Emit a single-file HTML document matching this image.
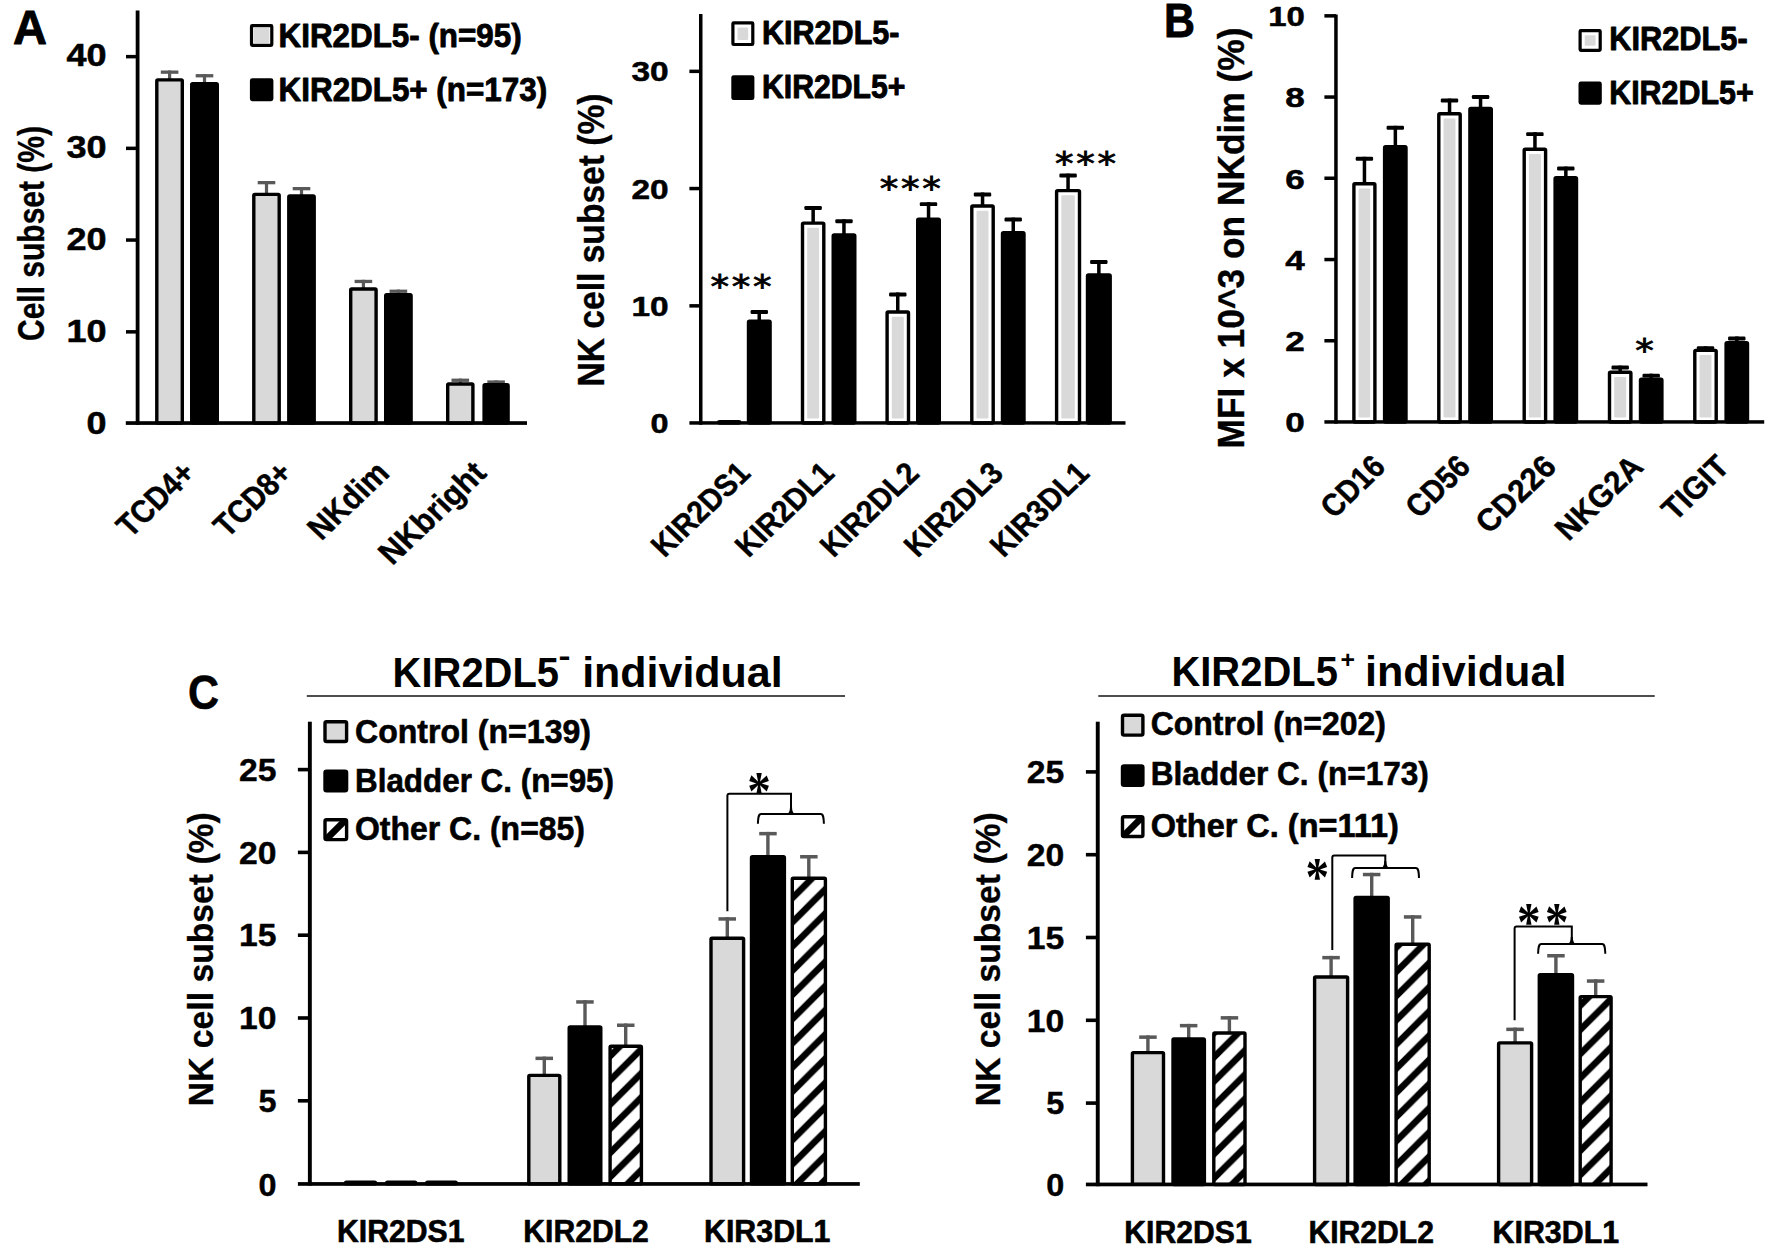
<!DOCTYPE html>
<html><head><meta charset="utf-8"><title>Figure</title>
<style>
html,body{margin:0;padding:0;background:#fff;}
svg{display:block;}
text{font-family:"Liberation Sans", sans-serif;fill:#000;}
</style></head>
<body>
<svg width="1772" height="1251" viewBox="0 0 1772 1251">
<defs>
<pattern id="hatch" patternUnits="userSpaceOnUse" width="24.2" height="24.2" x="20.6" y="0">
<rect width="24.2" height="24.2" fill="#fff"/>
<path d="M-6.05,6.05 L6.05,-6.05 M0,24.2 L24.2,0 M18.15,30.25 L30.25,18.15" stroke="#000" stroke-width="6.6" fill="none"/>
</pattern>
</defs>
<rect width="1772" height="1251" fill="#fff"/>
<rect x="160.8" y="70.5" width="17.6" height="3.3" rx="0" fill="#595959"/>
<rect x="168.0" y="70.5" width="3.2" height="9.2" fill="#595959"/>
<rect x="195.7" y="74.1" width="17.6" height="3.3" rx="0" fill="#595959"/>
<rect x="202.9" y="74.1" width="3.2" height="9.4" fill="#595959"/>
<rect x="257.7" y="181.0" width="17.6" height="3.3" rx="0" fill="#595959"/>
<rect x="264.9" y="181.0" width="3.2" height="13.2" fill="#595959"/>
<rect x="292.7" y="187.0" width="17.6" height="3.3" rx="0" fill="#595959"/>
<rect x="299.9" y="187.0" width="3.2" height="8.8" fill="#595959"/>
<rect x="354.6" y="279.8" width="17.6" height="3.3" rx="0" fill="#595959"/>
<rect x="361.8" y="279.8" width="3.2" height="9.0" fill="#595959"/>
<rect x="389.6" y="289.6" width="17.6" height="3.3" rx="0" fill="#595959"/>
<rect x="396.8" y="289.6" width="3.2" height="4.9" fill="#595959"/>
<rect x="451.5" y="378.6" width="17.6" height="3.3" rx="0" fill="#595959"/>
<rect x="458.7" y="378.6" width="3.2" height="5.2" fill="#595959"/>
<rect x="487.3" y="380.4" width="17.6" height="3.3" rx="0" fill="#595959"/>
<rect x="494.5" y="380.4" width="3.2" height="4.1" fill="#595959"/>
<rect x="156.8" y="79.9" width="25.5" height="343.2" rx="1" fill="#d9d9d9" stroke="#000" stroke-width="3.4"/>
<rect x="191.7" y="83.7" width="25.6" height="339.4" rx="1" fill="#000" stroke="#000" stroke-width="3.4"/>
<rect x="253.8" y="194.4" width="25.4" height="228.7" rx="1" fill="#d9d9d9" stroke="#000" stroke-width="3.4"/>
<rect x="288.8" y="196.0" width="25.4" height="227.1" rx="1" fill="#000" stroke="#000" stroke-width="3.4"/>
<rect x="350.7" y="289.0" width="25.4" height="134.1" rx="1" fill="#d9d9d9" stroke="#000" stroke-width="3.4"/>
<rect x="385.7" y="294.7" width="25.4" height="128.4" rx="1" fill="#000" stroke="#000" stroke-width="3.4"/>
<rect x="447.7" y="384.0" width="25.2" height="39.1" rx="1" fill="#d9d9d9" stroke="#000" stroke-width="3.4"/>
<rect x="484.1" y="384.7" width="24.0" height="38.4" rx="1" fill="#000" stroke="#000" stroke-width="3.4"/>
<rect x="135.7" y="10.5" width="3.8" height="414.3" fill="#000"/>
<rect x="125.8" y="421.2" width="401.2" height="3.7" fill="#000"/>
<text transform="translate(106.5,434.2)" font-size="30.5" font-weight="bold" text-anchor="end" textLength="20.0" lengthAdjust="spacingAndGlyphs" stroke="#000" stroke-width="0.5" stroke-linejoin="round">0</text>
<rect x="126.0" y="330.1" width="11.6" height="3.5" fill="#000"/>
<text transform="translate(106.5,342.1)" font-size="30.5" font-weight="bold" text-anchor="end" textLength="40.1" lengthAdjust="spacingAndGlyphs" stroke="#000" stroke-width="0.5" stroke-linejoin="round">10</text>
<rect x="126.0" y="238.3" width="11.6" height="3.5" fill="#000"/>
<text transform="translate(106.5,250.0)" font-size="30.5" font-weight="bold" text-anchor="end" textLength="40.1" lengthAdjust="spacingAndGlyphs" stroke="#000" stroke-width="0.5" stroke-linejoin="round">20</text>
<rect x="126.0" y="146.6" width="11.6" height="3.5" fill="#000"/>
<text transform="translate(106.5,157.9)" font-size="30.5" font-weight="bold" text-anchor="end" textLength="40.1" lengthAdjust="spacingAndGlyphs" stroke="#000" stroke-width="0.5" stroke-linejoin="round">30</text>
<rect x="126.0" y="54.9" width="11.6" height="3.5" fill="#000"/>
<text transform="translate(106.5,65.8)" font-size="30.5" font-weight="bold" text-anchor="end" textLength="40.1" lengthAdjust="spacingAndGlyphs" stroke="#000" stroke-width="0.5" stroke-linejoin="round">40</text>
<text transform="translate(44.4,233.5) scale(1.220,1) rotate(-90)" font-size="31.0" font-weight="bold" text-anchor="middle" textLength="215.0" lengthAdjust="spacingAndGlyphs" stroke="#000" stroke-width="0.3" stroke-linejoin="round">Cell subset (%)</text>
<rect x="251.5" y="25.7" width="20.3" height="19.7" rx="0.8" fill="#fff" stroke="#000" stroke-width="3.2"/>
<rect x="253.9" y="28.1" width="15.5" height="14.9" rx="1.2" fill="#d9d9d9"/>
<text transform="translate(278.6,47.0)" font-size="33.3" font-weight="bold" text-anchor="start" textLength="243.0" lengthAdjust="spacingAndGlyphs" stroke="#000" stroke-width="0.9" stroke-linejoin="round">KIR2DL5- (n=95)</text>
<rect x="251.5" y="79.9" width="20.3" height="19.7" rx="0.8" fill="#000" stroke="#000" stroke-width="3.2"/>
<text transform="translate(278.6,101.2)" font-size="33.3" font-weight="bold" text-anchor="start" textLength="268.5" lengthAdjust="spacingAndGlyphs" stroke="#000" stroke-width="0.9" stroke-linejoin="round">KIR2DL5+ (n=173)</text>
<text transform="translate(197.0,475.0) scale(1.050,1) rotate(-45)" font-size="32.0" font-weight="bold" text-anchor="end" textLength="90.0" lengthAdjust="spacingAndGlyphs" stroke="#000" stroke-width="0.45" stroke-linejoin="round">TCD4+</text>
<text transform="translate(294.0,475.0) scale(1.050,1) rotate(-45)" font-size="32.0" font-weight="bold" text-anchor="end" textLength="90.0" lengthAdjust="spacingAndGlyphs" stroke="#000" stroke-width="0.45" stroke-linejoin="round">TCD8+</text>
<text transform="translate(391.0,475.0) scale(1.050,1) rotate(-45)" font-size="32.0" font-weight="bold" text-anchor="end" textLength="94.0" lengthAdjust="spacingAndGlyphs" stroke="#000" stroke-width="0.45" stroke-linejoin="round">NKdim</text>
<text transform="translate(488.0,475.0) scale(1.050,1) rotate(-45)" font-size="32.0" font-weight="bold" text-anchor="end" textLength="129.0" lengthAdjust="spacingAndGlyphs" stroke="#000" stroke-width="0.45" stroke-linejoin="round">NKbright</text>
<text transform="translate(13.0,43.7)" font-size="48.5" font-weight="bold" text-anchor="start" textLength="34.0" lengthAdjust="spacingAndGlyphs" stroke="#000" stroke-width="0.9" stroke-linejoin="round">A</text>
<rect x="750.6" y="310.0" width="17.4" height="3.9" rx="1.2" fill="#000"/>
<rect x="757.5" y="310.0" width="3.5" height="11.1" fill="#000"/>
<rect x="804.4" y="206.1" width="17.4" height="3.9" rx="1.2" fill="#000"/>
<rect x="811.4" y="206.1" width="3.5" height="16.8" fill="#000"/>
<rect x="835.3" y="219.3" width="17.4" height="3.9" rx="1.2" fill="#000"/>
<rect x="842.2" y="219.3" width="3.5" height="15.4" fill="#000"/>
<rect x="889.1" y="292.5" width="17.4" height="3.9" rx="1.2" fill="#000"/>
<rect x="896.0" y="292.5" width="3.5" height="19.3" fill="#000"/>
<rect x="919.8" y="202.2" width="17.4" height="3.9" rx="1.2" fill="#000"/>
<rect x="926.8" y="202.2" width="3.5" height="16.8" fill="#000"/>
<rect x="973.8" y="192.5" width="17.4" height="3.9" rx="1.2" fill="#000"/>
<rect x="980.8" y="192.5" width="3.5" height="13.3" fill="#000"/>
<rect x="1004.5" y="217.6" width="17.4" height="3.9" rx="1.2" fill="#000"/>
<rect x="1011.5" y="217.6" width="3.5" height="15.0" fill="#000"/>
<rect x="1059.4" y="173.6" width="17.4" height="3.9" rx="1.2" fill="#000"/>
<rect x="1066.3" y="173.6" width="3.5" height="16.8" fill="#000"/>
<rect x="1090.1" y="260.0" width="17.4" height="3.9" rx="1.2" fill="#000"/>
<rect x="1097.1" y="260.0" width="3.5" height="14.7" fill="#000"/>
<rect x="718.7" y="421.7" width="21.1" height="1.3" rx="1" fill="#d9d9d9" stroke="#000" stroke-width="3.4"/>
<rect x="748.5" y="321.3" width="21.6" height="101.7" rx="1" fill="#000" stroke="#000" stroke-width="3.4"/>
<rect x="802.5" y="223.1" width="21.3" height="199.9" rx="1" fill="#fff" stroke="#000" stroke-width="3.4"/>
<rect x="807.2" y="227.8" width="11.9" height="190.7" rx="1.2" fill="#d9d9d9"/>
<rect x="833.2" y="234.9" width="21.6" height="188.1" rx="1" fill="#000" stroke="#000" stroke-width="3.4"/>
<rect x="887.1" y="312.0" width="21.4" height="111.0" rx="1" fill="#fff" stroke="#000" stroke-width="3.4"/>
<rect x="891.8" y="316.7" width="12.0" height="101.8" rx="1.2" fill="#d9d9d9"/>
<rect x="917.7" y="219.2" width="21.6" height="203.8" rx="1" fill="#000" stroke="#000" stroke-width="3.4"/>
<rect x="971.8" y="206.0" width="21.4" height="217.0" rx="1" fill="#fff" stroke="#000" stroke-width="3.4"/>
<rect x="976.5" y="210.7" width="12.0" height="207.8" rx="1.2" fill="#d9d9d9"/>
<rect x="1002.5" y="232.8" width="21.5" height="190.2" rx="1" fill="#000" stroke="#000" stroke-width="3.4"/>
<rect x="1056.6" y="190.6" width="22.9" height="232.4" rx="1" fill="#fff" stroke="#000" stroke-width="3.4"/>
<rect x="1061.3" y="195.3" width="13.5" height="223.2" rx="1.2" fill="#d9d9d9"/>
<rect x="1087.5" y="274.9" width="22.7" height="148.1" rx="1" fill="#000" stroke="#000" stroke-width="3.4"/>
<rect x="699.0" y="14.0" width="3.5" height="410.7" fill="#000"/>
<rect x="689.4" y="421.2" width="436.1" height="3.5" fill="#000"/>
<text transform="translate(668.6,433.0)" font-size="27.5" font-weight="bold" text-anchor="end" textLength="18.0" lengthAdjust="spacingAndGlyphs" stroke="#000" stroke-width="0.5" stroke-linejoin="round">0</text>
<rect x="689.4" y="304.1" width="11.4" height="3.5" fill="#000"/>
<text transform="translate(668.6,315.8)" font-size="27.5" font-weight="bold" text-anchor="end" textLength="37.2" lengthAdjust="spacingAndGlyphs" stroke="#000" stroke-width="0.5" stroke-linejoin="round">10</text>
<rect x="689.4" y="186.8" width="11.4" height="3.5" fill="#000"/>
<text transform="translate(668.6,198.6)" font-size="27.5" font-weight="bold" text-anchor="end" textLength="37.2" lengthAdjust="spacingAndGlyphs" stroke="#000" stroke-width="0.5" stroke-linejoin="round">20</text>
<rect x="689.4" y="69.6" width="11.4" height="3.5" fill="#000"/>
<text transform="translate(668.6,81.4)" font-size="27.5" font-weight="bold" text-anchor="end" textLength="37.2" lengthAdjust="spacingAndGlyphs" stroke="#000" stroke-width="0.5" stroke-linejoin="round">30</text>
<text transform="translate(604.2,240.0) scale(1.170,1) rotate(-90)" font-size="31.0" font-weight="bold" text-anchor="middle" textLength="293.0" lengthAdjust="spacingAndGlyphs" stroke="#000" stroke-width="0.3" stroke-linejoin="round">NK cell subset (%)</text>
<rect x="732.9" y="22.9" width="19.9" height="21.6" rx="0.8" fill="#fff" stroke="#000" stroke-width="3.2"/>
<rect x="737.5" y="27.5" width="10.7" height="12.4" rx="1.2" fill="#d9d9d9"/>
<text transform="translate(762.0,43.9)" font-size="32.8" font-weight="bold" text-anchor="start" textLength="137.5" lengthAdjust="spacingAndGlyphs" stroke="#000" stroke-width="0.9" stroke-linejoin="round">KIR2DL5-</text>
<rect x="732.9" y="76.8" width="19.9" height="21.7" rx="0.8" fill="#000" stroke="#000" stroke-width="3.2"/>
<text transform="translate(762.0,97.8)" font-size="32.8" font-weight="bold" text-anchor="start" textLength="143.5" lengthAdjust="spacingAndGlyphs" stroke="#000" stroke-width="0.9" stroke-linejoin="round">KIR2DL5+</text>
<text transform="translate(752.0,475.0) scale(1.050,1) rotate(-45)" font-size="31.0" font-weight="bold" text-anchor="end" textLength="118.0" lengthAdjust="spacingAndGlyphs" stroke="#000" stroke-width="0.45" stroke-linejoin="round">KIR2DS1</text>
<text transform="translate(836.0,475.0) scale(1.050,1) rotate(-45)" font-size="31.0" font-weight="bold" text-anchor="end" textLength="118.0" lengthAdjust="spacingAndGlyphs" stroke="#000" stroke-width="0.45" stroke-linejoin="round">KIR2DL1</text>
<text transform="translate(921.0,475.0) scale(1.050,1) rotate(-45)" font-size="31.0" font-weight="bold" text-anchor="end" textLength="118.0" lengthAdjust="spacingAndGlyphs" stroke="#000" stroke-width="0.45" stroke-linejoin="round">KIR2DL2</text>
<text transform="translate(1005.0,475.0) scale(1.050,1) rotate(-45)" font-size="31.0" font-weight="bold" text-anchor="end" textLength="118.0" lengthAdjust="spacingAndGlyphs" stroke="#000" stroke-width="0.45" stroke-linejoin="round">KIR2DL3</text>
<text transform="translate(1091.0,475.0) scale(1.050,1) rotate(-45)" font-size="31.0" font-weight="bold" text-anchor="end" textLength="118.0" lengthAdjust="spacingAndGlyphs" stroke="#000" stroke-width="0.45" stroke-linejoin="round">KIR3DL1</text>
<text transform="translate(710.5,297.2) scale(1.140,1)" font-size="32.5" font-weight="normal" text-anchor="start" textLength="53.6" lengthAdjust="spacing" style="font-family:'DejaVu Sans',sans-serif" stroke="#000" stroke-width="0.8">***</text>
<text transform="translate(879.7,199.2) scale(1.140,1)" font-size="32.5" font-weight="normal" text-anchor="start" textLength="53.6" lengthAdjust="spacing" style="font-family:'DejaVu Sans',sans-serif" stroke="#000" stroke-width="0.8">***</text>
<text transform="translate(1055.0,174.2) scale(1.140,1)" font-size="32.5" font-weight="normal" text-anchor="start" textLength="53.6" lengthAdjust="spacing" style="font-family:'DejaVu Sans',sans-serif" stroke="#000" stroke-width="0.8">***</text>
<rect x="1355.7" y="156.8" width="17.4" height="3.9" rx="1.2" fill="#000"/>
<rect x="1362.7" y="156.8" width="3.5" height="26.8" fill="#000"/>
<rect x="1386.6" y="125.8" width="17.4" height="3.9" rx="1.2" fill="#000"/>
<rect x="1393.6" y="125.8" width="3.5" height="20.8" fill="#000"/>
<rect x="1440.8" y="98.6" width="17.4" height="3.9" rx="1.2" fill="#000"/>
<rect x="1447.8" y="98.6" width="3.5" height="15.0" fill="#000"/>
<rect x="1471.9" y="95.0" width="17.4" height="3.9" rx="1.2" fill="#000"/>
<rect x="1478.8" y="95.0" width="3.5" height="13.2" fill="#000"/>
<rect x="1526.2" y="132.2" width="17.4" height="3.9" rx="1.2" fill="#000"/>
<rect x="1533.2" y="132.2" width="3.5" height="16.9" fill="#000"/>
<rect x="1557.1" y="166.6" width="17.4" height="3.9" rx="1.2" fill="#000"/>
<rect x="1564.1" y="166.6" width="3.5" height="11.0" fill="#000"/>
<rect x="1611.5" y="365.6" width="17.4" height="3.9" rx="1.2" fill="#000"/>
<rect x="1618.4" y="365.6" width="3.5" height="6.4" fill="#000"/>
<rect x="1642.5" y="373.7" width="17.4" height="3.9" rx="1.2" fill="#000"/>
<rect x="1649.4" y="373.7" width="3.5" height="5.3" fill="#000"/>
<rect x="1696.8" y="346.3" width="17.4" height="3.9" rx="1.2" fill="#000"/>
<rect x="1703.8" y="346.3" width="3.5" height="3.9" fill="#000"/>
<rect x="1728.1" y="336.5" width="17.4" height="3.9" rx="1.2" fill="#000"/>
<rect x="1735.1" y="336.5" width="3.5" height="6.0" fill="#000"/>
<rect x="1353.9" y="183.8" width="21.0" height="238.2" rx="1" fill="#fff" stroke="#000" stroke-width="3.4"/>
<rect x="1358.6" y="188.5" width="11.6" height="229.0" rx="1.2" fill="#d9d9d9"/>
<rect x="1384.6" y="146.8" width="21.4" height="275.2" rx="1" fill="#000" stroke="#000" stroke-width="3.4"/>
<rect x="1438.8" y="113.8" width="21.4" height="308.2" rx="1" fill="#fff" stroke="#000" stroke-width="3.4"/>
<rect x="1443.5" y="118.5" width="12.0" height="299.0" rx="1.2" fill="#d9d9d9"/>
<rect x="1469.9" y="108.4" width="21.4" height="313.6" rx="1" fill="#000" stroke="#000" stroke-width="3.4"/>
<rect x="1524.2" y="149.3" width="21.4" height="272.7" rx="1" fill="#fff" stroke="#000" stroke-width="3.4"/>
<rect x="1528.9" y="154.0" width="12.0" height="263.5" rx="1.2" fill="#d9d9d9"/>
<rect x="1555.1" y="177.8" width="21.4" height="244.2" rx="1" fill="#000" stroke="#000" stroke-width="3.4"/>
<rect x="1609.5" y="372.2" width="21.4" height="49.8" rx="1" fill="#fff" stroke="#000" stroke-width="3.4"/>
<rect x="1614.2" y="376.9" width="12.0" height="40.6" rx="1.2" fill="#d9d9d9"/>
<rect x="1640.5" y="379.2" width="21.4" height="42.8" rx="1" fill="#000" stroke="#000" stroke-width="3.4"/>
<rect x="1694.8" y="350.4" width="21.4" height="71.6" rx="1" fill="#fff" stroke="#000" stroke-width="3.4"/>
<rect x="1699.5" y="355.1" width="12.0" height="62.4" rx="1.2" fill="#d9d9d9"/>
<rect x="1726.1" y="342.7" width="21.4" height="79.3" rx="1" fill="#000" stroke="#000" stroke-width="3.4"/>
<rect x="1334.2" y="14.5" width="3.5" height="409.2" fill="#000"/>
<rect x="1324.4" y="420.2" width="439.8" height="3.5" fill="#000"/>
<text transform="translate(1304.8,432.3)" font-size="27.5" font-weight="bold" text-anchor="end" textLength="19.5" lengthAdjust="spacingAndGlyphs" stroke="#000" stroke-width="0.5" stroke-linejoin="round">0</text>
<rect x="1324.4" y="339.0" width="11.6" height="3.5" fill="#000"/>
<text transform="translate(1304.8,351.1)" font-size="27.5" font-weight="bold" text-anchor="end" textLength="19.5" lengthAdjust="spacingAndGlyphs" stroke="#000" stroke-width="0.5" stroke-linejoin="round">2</text>
<rect x="1324.4" y="257.8" width="11.6" height="3.5" fill="#000"/>
<text transform="translate(1304.8,269.8)" font-size="27.5" font-weight="bold" text-anchor="end" textLength="19.5" lengthAdjust="spacingAndGlyphs" stroke="#000" stroke-width="0.5" stroke-linejoin="round">4</text>
<rect x="1324.4" y="176.5" width="11.6" height="3.5" fill="#000"/>
<text transform="translate(1304.8,188.6)" font-size="27.5" font-weight="bold" text-anchor="end" textLength="19.5" lengthAdjust="spacingAndGlyphs" stroke="#000" stroke-width="0.5" stroke-linejoin="round">6</text>
<rect x="1324.4" y="95.3" width="11.6" height="3.5" fill="#000"/>
<text transform="translate(1304.8,107.3)" font-size="27.5" font-weight="bold" text-anchor="end" textLength="19.5" lengthAdjust="spacingAndGlyphs" stroke="#000" stroke-width="0.5" stroke-linejoin="round">8</text>
<rect x="1324.4" y="14.1" width="11.6" height="3.5" fill="#000"/>
<text transform="translate(1304.8,26.1)" font-size="27.5" font-weight="bold" text-anchor="end" textLength="36.6" lengthAdjust="spacingAndGlyphs" stroke="#000" stroke-width="0.5" stroke-linejoin="round">10</text>
<text transform="translate(1243.8,238.0) scale(1.200,1) rotate(-90)" font-size="31.0" font-weight="bold" text-anchor="middle" textLength="421.0" lengthAdjust="spacingAndGlyphs" stroke="#000" stroke-width="0.3" stroke-linejoin="round">MFI x 10^3 on NKdim (%)</text>
<rect x="1580.1" y="30.7" width="20.1" height="19.7" rx="0.8" fill="#fff" stroke="#000" stroke-width="3.2"/>
<rect x="1584.7" y="35.3" width="10.9" height="10.5" rx="1.2" fill="#d9d9d9"/>
<text transform="translate(1609.2,50.2)" font-size="33.3" font-weight="bold" text-anchor="start" textLength="138.5" lengthAdjust="spacingAndGlyphs" stroke="#000" stroke-width="0.9" stroke-linejoin="round">KIR2DL5-</text>
<rect x="1580.1" y="83.2" width="20.1" height="19.9" rx="0.8" fill="#000" stroke="#000" stroke-width="3.2"/>
<text transform="translate(1609.2,104.4)" font-size="33.3" font-weight="bold" text-anchor="start" textLength="144.5" lengthAdjust="spacingAndGlyphs" stroke="#000" stroke-width="0.9" stroke-linejoin="round">KIR2DL5+</text>
<text transform="translate(1387.0,468.5) scale(1.040,1) rotate(-45)" font-size="31.5" font-weight="bold" text-anchor="end" textLength="72.0" lengthAdjust="spacingAndGlyphs" stroke="#000" stroke-width="0.45" stroke-linejoin="round">CD16</text>
<text transform="translate(1472.0,468.5) scale(1.040,1) rotate(-45)" font-size="31.5" font-weight="bold" text-anchor="end" textLength="72.0" lengthAdjust="spacingAndGlyphs" stroke="#000" stroke-width="0.45" stroke-linejoin="round">CD56</text>
<text transform="translate(1558.0,468.5) scale(1.040,1) rotate(-45)" font-size="31.5" font-weight="bold" text-anchor="end" textLength="94.0" lengthAdjust="spacingAndGlyphs" stroke="#000" stroke-width="0.45" stroke-linejoin="round">CD226</text>
<text transform="translate(1645.0,468.5) scale(1.040,1) rotate(-45)" font-size="31.5" font-weight="bold" text-anchor="end" textLength="104.0" lengthAdjust="spacingAndGlyphs" stroke="#000" stroke-width="0.45" stroke-linejoin="round">NKG2A</text>
<text transform="translate(1731.0,468.5) scale(1.040,1) rotate(-45)" font-size="31.5" font-weight="bold" text-anchor="end" textLength="76.0" lengthAdjust="spacingAndGlyphs" stroke="#000" stroke-width="0.45" stroke-linejoin="round">TIGIT</text>
<text transform="translate(1635.2,361.0) scale(1.140,1)" font-size="32.5" font-weight="normal" text-anchor="start" style="font-family:'DejaVu Sans',sans-serif" stroke="#000" stroke-width="0.8">*</text>
<text transform="translate(1164.0,36.9)" font-size="49.0" font-weight="bold" text-anchor="start" textLength="31.0" lengthAdjust="spacingAndGlyphs" stroke="#000" stroke-width="0.9" stroke-linejoin="round">B</text>
<rect x="535.5" y="1056.6" width="17.5" height="3.5" rx="0" fill="#595959"/>
<rect x="542.6" y="1056.6" width="3.4" height="18.6" fill="#595959"/>
<rect x="576.2" y="1000.2" width="17.5" height="3.5" rx="0" fill="#595959"/>
<rect x="583.3" y="1000.2" width="3.4" height="26.5" fill="#595959"/>
<rect x="617.0" y="1023.5" width="17.5" height="3.5" rx="0" fill="#595959"/>
<rect x="624.0" y="1023.5" width="3.4" height="22.5" fill="#595959"/>
<rect x="718.5" y="917.2" width="17.5" height="3.5" rx="0" fill="#595959"/>
<rect x="725.6" y="917.2" width="3.4" height="20.9" fill="#595959"/>
<rect x="759.2" y="831.9" width="17.5" height="3.5" rx="0" fill="#595959"/>
<rect x="766.2" y="831.9" width="3.4" height="24.6" fill="#595959"/>
<rect x="800.1" y="855.0" width="17.5" height="3.5" rx="0" fill="#595959"/>
<rect x="807.1" y="855.0" width="3.4" height="23.0" fill="#595959"/>
<rect x="345.5" y="1182.1" width="30.1" height="1.8" rx="1" fill="#000" stroke="#000" stroke-width="3.4"/>
<rect x="386.6" y="1182.1" width="29.2" height="1.8" rx="1" fill="#000" stroke="#000" stroke-width="3.4"/>
<rect x="426.7" y="1182.1" width="29.6" height="1.8" rx="1" fill="#000" stroke="#000" stroke-width="3.4"/>
<rect x="528.8" y="1075.4" width="31.0" height="108.5" rx="1" fill="#d9d9d9" stroke="#000" stroke-width="3.4"/>
<rect x="569.2" y="1026.9" width="31.6" height="157.0" rx="1" fill="#000" stroke="#000" stroke-width="3.4"/>
<rect x="610.1" y="1046.2" width="31.3" height="137.7" rx="1" fill="url(#hatch)" stroke="#000" stroke-width="3.4"/>
<rect x="711.0" y="938.3" width="32.6" height="245.6" rx="1" fill="#d9d9d9" stroke="#000" stroke-width="3.4"/>
<rect x="751.5" y="856.7" width="32.9" height="327.2" rx="1" fill="#000" stroke="#000" stroke-width="3.4"/>
<rect x="792.3" y="878.2" width="33.1" height="305.7" rx="1" fill="url(#hatch)" stroke="#000" stroke-width="3.4"/>
<rect x="307.9" y="721.7" width="3.9" height="463.9" fill="#000"/>
<rect x="297.9" y="1182.1" width="561.9" height="3.7" fill="#000"/>
<text transform="translate(276.5,1195.7)" font-size="31.3" font-weight="bold" text-anchor="end" textLength="18.0" lengthAdjust="spacingAndGlyphs" stroke="#000" stroke-width="0.4" stroke-linejoin="round">0</text>
<rect x="297.9" y="1099.0" width="11.9" height="3.6" fill="#000"/>
<text transform="translate(276.5,1112.0)" font-size="31.3" font-weight="bold" text-anchor="end" textLength="18.0" lengthAdjust="spacingAndGlyphs" stroke="#000" stroke-width="0.4" stroke-linejoin="round">5</text>
<rect x="297.9" y="1016.2" width="11.9" height="3.6" fill="#000"/>
<text transform="translate(276.5,1029.2)" font-size="31.3" font-weight="bold" text-anchor="end" textLength="37.5" lengthAdjust="spacingAndGlyphs" stroke="#000" stroke-width="0.4" stroke-linejoin="round">10</text>
<rect x="297.9" y="933.4" width="11.9" height="3.6" fill="#000"/>
<text transform="translate(276.5,946.4)" font-size="31.3" font-weight="bold" text-anchor="end" textLength="37.5" lengthAdjust="spacingAndGlyphs" stroke="#000" stroke-width="0.4" stroke-linejoin="round">15</text>
<rect x="297.9" y="850.6" width="11.9" height="3.6" fill="#000"/>
<text transform="translate(276.5,863.6)" font-size="31.3" font-weight="bold" text-anchor="end" textLength="37.5" lengthAdjust="spacingAndGlyphs" stroke="#000" stroke-width="0.4" stroke-linejoin="round">20</text>
<rect x="297.9" y="767.8" width="11.9" height="3.6" fill="#000"/>
<text transform="translate(276.5,780.8)" font-size="31.3" font-weight="bold" text-anchor="end" textLength="37.5" lengthAdjust="spacingAndGlyphs" stroke="#000" stroke-width="0.4" stroke-linejoin="round">25</text>
<text transform="translate(212.9,959.2) scale(1.080,1) rotate(-90)" font-size="33.0" font-weight="bold" text-anchor="middle" textLength="294.0" lengthAdjust="spacingAndGlyphs" stroke="#000" stroke-width="0.3" stroke-linejoin="round">NK cell subset (%)</text>
<rect x="325.0" y="721.7" width="21.6" height="19.8" rx="1.6" fill="#d9d9d9" stroke="#000" stroke-width="3.4"/>
<text transform="translate(355.0,742.9)" font-size="32.5" font-weight="bold" text-anchor="start" textLength="236.0" lengthAdjust="spacingAndGlyphs" stroke="#000" stroke-width="0.6" stroke-linejoin="round">Control (n=139)</text>
<rect x="325.0" y="771.1" width="21.6" height="19.8" rx="1.6" fill="#000" stroke="#000" stroke-width="3.4"/>
<text transform="translate(355.0,791.6)" font-size="32.5" font-weight="bold" text-anchor="start" textLength="259.0" lengthAdjust="spacingAndGlyphs" stroke="#000" stroke-width="0.6" stroke-linejoin="round">Bladder C. (n=95)</text>
<clipPath id="lc1"><rect x="325.0" y="819.8" width="21.6" height="19.8"/></clipPath>
<rect x="325.0" y="819.8" width="21.6" height="19.8" fill="#fff"/>
<path d="M315.8,849.7 L355.8,809.7" stroke="#000" stroke-width="6.6" clip-path="url(#lc1)"/>
<rect x="325.0" y="819.8" width="21.6" height="19.8" rx="1.6" fill="none" stroke="#000" stroke-width="3.4"/>
<text transform="translate(355.0,840.3)" font-size="32.5" font-weight="bold" text-anchor="start" textLength="230.0" lengthAdjust="spacingAndGlyphs" stroke="#000" stroke-width="0.6" stroke-linejoin="round">Other C. (n=85)</text>
<text transform="translate(337.0,1242.3)" font-size="30.5" font-weight="bold" text-anchor="start" textLength="127.5" lengthAdjust="spacingAndGlyphs" stroke="#000" stroke-width="0.6" stroke-linejoin="round">KIR2DS1</text>
<text transform="translate(523.3,1242.3)" font-size="30.5" font-weight="bold" text-anchor="start" textLength="125.5" lengthAdjust="spacingAndGlyphs" stroke="#000" stroke-width="0.6" stroke-linejoin="round">KIR2DL2</text>
<text transform="translate(704.0,1242.3)" font-size="30.5" font-weight="bold" text-anchor="start" textLength="126.5" lengthAdjust="spacingAndGlyphs" stroke="#000" stroke-width="0.6" stroke-linejoin="round">KIR3DL1</text>
<text font-size="43" font-weight="bold"><tspan x="392.6" y="687.0" textLength="166.5" lengthAdjust="spacingAndGlyphs">KIR2DL5</tspan><tspan x="558.5" y="665.5" font-size="30" textLength="12.0" lengthAdjust="spacingAndGlyphs">-</tspan><tspan x="582.2" y="687.0" textLength="200.5" lengthAdjust="spacingAndGlyphs">individual</tspan></text>
<rect x="306.8" y="695.2" width="538.2" height="1.6" fill="#222"/>
<path d="M727.4,911.2 V795.7 Q727.4,793.7 729.4,793.7 H791.0 V814.1" fill="none" stroke="#000" stroke-width="2.0"/>
<path d="M757.9,823.7 C758.1,817.3 758.5,814.1 761.1,814.1 H820.7 C823.3,814.1 823.7,817.3 823.9,823.7" fill="none" stroke="#000" stroke-width="2.0"/>
<path d="M790.0,807.1 Q790.0,812.6 786.5,815.1 H795.5 Q792.0,812.6 792.0,807.1 Z" fill="#000"/>
<text transform="translate(747.2,809.2)" font-size="55.0" font-weight="bold" text-anchor="start" textLength="23.6" lengthAdjust="spacingAndGlyphs" style="font-family:'Liberation Serif',serif">*</text>
<text transform="translate(188.0,709.0)" font-size="49.0" font-weight="bold" text-anchor="start" textLength="31.0" lengthAdjust="spacingAndGlyphs" stroke="#000" stroke-width="0.6" stroke-linejoin="round">C</text>
<rect x="1139.2" y="1035.4" width="17.5" height="3.5" rx="0" fill="#595959"/>
<rect x="1146.2" y="1035.4" width="3.4" height="17.0" fill="#595959"/>
<rect x="1179.9" y="1023.9" width="17.5" height="3.5" rx="0" fill="#595959"/>
<rect x="1187.0" y="1023.9" width="3.4" height="14.9" fill="#595959"/>
<rect x="1220.7" y="1016.1" width="17.5" height="3.5" rx="0" fill="#595959"/>
<rect x="1227.7" y="1016.1" width="3.4" height="16.7" fill="#595959"/>
<rect x="1322.3" y="955.9" width="17.5" height="3.5" rx="0" fill="#595959"/>
<rect x="1329.4" y="955.9" width="3.4" height="20.9" fill="#595959"/>
<rect x="1362.9" y="872.8" width="17.5" height="3.5" rx="0" fill="#595959"/>
<rect x="1370.0" y="872.8" width="3.4" height="24.4" fill="#595959"/>
<rect x="1403.9" y="915.2" width="17.5" height="3.5" rx="0" fill="#595959"/>
<rect x="1411.0" y="915.2" width="3.4" height="28.9" fill="#595959"/>
<rect x="1506.3" y="1027.6" width="17.5" height="3.5" rx="0" fill="#595959"/>
<rect x="1513.4" y="1027.6" width="3.4" height="15.1" fill="#595959"/>
<rect x="1547.2" y="954.0" width="17.5" height="3.5" rx="0" fill="#595959"/>
<rect x="1554.2" y="954.0" width="3.4" height="20.6" fill="#595959"/>
<rect x="1586.9" y="979.3" width="17.5" height="3.5" rx="0" fill="#595959"/>
<rect x="1594.0" y="979.3" width="3.4" height="17.1" fill="#595959"/>
<rect x="1132.4" y="1052.6" width="31.1" height="131.8" rx="1" fill="#d9d9d9" stroke="#000" stroke-width="3.4"/>
<rect x="1173.0" y="1039.0" width="31.4" height="145.5" rx="1" fill="#000" stroke="#000" stroke-width="3.4"/>
<rect x="1213.8" y="1033.0" width="31.2" height="151.5" rx="1" fill="url(#hatch)" stroke="#000" stroke-width="3.4"/>
<rect x="1314.6" y="977.0" width="33.0" height="207.5" rx="1" fill="#d9d9d9" stroke="#000" stroke-width="3.4"/>
<rect x="1355.1" y="897.4" width="33.1" height="287.1" rx="1" fill="#000" stroke="#000" stroke-width="3.4"/>
<rect x="1396.1" y="944.3" width="33.1" height="240.2" rx="1" fill="url(#hatch)" stroke="#000" stroke-width="3.4"/>
<rect x="1498.6" y="1042.9" width="33.0" height="141.6" rx="1" fill="#d9d9d9" stroke="#000" stroke-width="3.4"/>
<rect x="1539.3" y="974.8" width="33.2" height="209.7" rx="1" fill="#000" stroke="#000" stroke-width="3.4"/>
<rect x="1580.2" y="996.6" width="30.9" height="187.9" rx="1" fill="url(#hatch)" stroke="#000" stroke-width="3.4"/>
<rect x="1095.8" y="721.7" width="3.9" height="464.5" fill="#000"/>
<rect x="1085.9" y="1182.6" width="561.6" height="3.7" fill="#000"/>
<text transform="translate(1064.3,1196.2)" font-size="31.3" font-weight="bold" text-anchor="end" textLength="18.0" lengthAdjust="spacingAndGlyphs" stroke="#000" stroke-width="0.4" stroke-linejoin="round">0</text>
<rect x="1085.9" y="1101.3" width="11.9" height="3.6" fill="#000"/>
<text transform="translate(1064.3,1114.3)" font-size="31.3" font-weight="bold" text-anchor="end" textLength="18.0" lengthAdjust="spacingAndGlyphs" stroke="#000" stroke-width="0.4" stroke-linejoin="round">5</text>
<rect x="1085.9" y="1018.5" width="11.9" height="3.6" fill="#000"/>
<text transform="translate(1064.3,1031.5)" font-size="31.3" font-weight="bold" text-anchor="end" textLength="37.5" lengthAdjust="spacingAndGlyphs" stroke="#000" stroke-width="0.4" stroke-linejoin="round">10</text>
<rect x="1085.9" y="935.7" width="11.9" height="3.6" fill="#000"/>
<text transform="translate(1064.3,948.7)" font-size="31.3" font-weight="bold" text-anchor="end" textLength="37.5" lengthAdjust="spacingAndGlyphs" stroke="#000" stroke-width="0.4" stroke-linejoin="round">15</text>
<rect x="1085.9" y="852.9" width="11.9" height="3.6" fill="#000"/>
<text transform="translate(1064.3,865.9)" font-size="31.3" font-weight="bold" text-anchor="end" textLength="37.5" lengthAdjust="spacingAndGlyphs" stroke="#000" stroke-width="0.4" stroke-linejoin="round">20</text>
<rect x="1085.9" y="770.1" width="11.9" height="3.6" fill="#000"/>
<text transform="translate(1064.3,783.1)" font-size="31.3" font-weight="bold" text-anchor="end" textLength="37.5" lengthAdjust="spacingAndGlyphs" stroke="#000" stroke-width="0.4" stroke-linejoin="round">25</text>
<text transform="translate(1000.2,959.2) scale(1.080,1) rotate(-90)" font-size="33.0" font-weight="bold" text-anchor="middle" textLength="294.0" lengthAdjust="spacingAndGlyphs" stroke="#000" stroke-width="0.3" stroke-linejoin="round">NK cell subset (%)</text>
<rect x="1122.5" y="715.3" width="20.4" height="19.8" rx="1.6" fill="#d9d9d9" stroke="#000" stroke-width="3.4"/>
<text transform="translate(1150.8,735.3)" font-size="32.5" font-weight="bold" text-anchor="start" textLength="235.0" lengthAdjust="spacingAndGlyphs" stroke="#000" stroke-width="0.6" stroke-linejoin="round">Control (n=202)</text>
<rect x="1122.5" y="766.0" width="20.4" height="19.3" rx="1.6" fill="#000" stroke="#000" stroke-width="3.4"/>
<text transform="translate(1150.8,785.3)" font-size="32.5" font-weight="bold" text-anchor="start" textLength="278.0" lengthAdjust="spacingAndGlyphs" stroke="#000" stroke-width="0.6" stroke-linejoin="round">Bladder C. (n=173)</text>
<clipPath id="lc2"><rect x="1122.5" y="816.7" width="20.4" height="19.8"/></clipPath>
<rect x="1122.5" y="816.7" width="20.4" height="19.8" fill="#fff"/>
<path d="M1112.7,846.6 L1152.7,806.6" stroke="#000" stroke-width="6.6" clip-path="url(#lc2)"/>
<rect x="1122.5" y="816.7" width="20.4" height="19.8" rx="1.6" fill="none" stroke="#000" stroke-width="3.4"/>
<text transform="translate(1150.8,837.0)" font-size="32.5" font-weight="bold" text-anchor="start" textLength="248.0" lengthAdjust="spacingAndGlyphs" stroke="#000" stroke-width="0.6" stroke-linejoin="round">Other C. (n=111)</text>
<text transform="translate(1124.3,1243.0)" font-size="30.5" font-weight="bold" text-anchor="start" textLength="127.5" lengthAdjust="spacingAndGlyphs" stroke="#000" stroke-width="0.6" stroke-linejoin="round">KIR2DS1</text>
<text transform="translate(1308.5,1243.0)" font-size="30.5" font-weight="bold" text-anchor="start" textLength="125.5" lengthAdjust="spacingAndGlyphs" stroke="#000" stroke-width="0.6" stroke-linejoin="round">KIR2DL2</text>
<text transform="translate(1492.6,1243.0)" font-size="30.5" font-weight="bold" text-anchor="start" textLength="126.5" lengthAdjust="spacingAndGlyphs" stroke="#000" stroke-width="0.6" stroke-linejoin="round">KIR3DL1</text>
<text font-size="43" font-weight="bold"><tspan x="1171.4" y="685.7" textLength="166.5" lengthAdjust="spacingAndGlyphs">KIR2DL5</tspan><tspan x="1340.4" y="667.7" font-size="24" textLength="14.5" lengthAdjust="spacingAndGlyphs">+</tspan><tspan x="1365.0" y="685.7" textLength="201.5" lengthAdjust="spacingAndGlyphs">individual</tspan></text>
<rect x="1098.3" y="695.2" width="556.4" height="1.6" fill="#222"/>
<path d="M1332.3,949.9 V857.6 Q1332.3,855.6 1334.3,855.6 H1385.3 V868.1" fill="none" stroke="#000" stroke-width="2.0"/>
<path d="M1352.1,878.0 C1352.3,871.3 1352.7,868.1 1355.3,868.1 H1415.8 C1418.4,868.1 1418.8,871.3 1419.0,878.0" fill="none" stroke="#000" stroke-width="2.0"/>
<path d="M1384.3,861.1 Q1384.3,866.6 1380.8,869.1 H1389.8 Q1386.3,866.6 1386.3,861.1 Z" fill="#000"/>
<text transform="translate(1305.5,895.4)" font-size="55.0" font-weight="bold" text-anchor="start" textLength="23.6" lengthAdjust="spacingAndGlyphs" style="font-family:'Liberation Serif',serif">*</text>
<path d="M1514.6,1020.3 V928.4 Q1514.6,926.4 1516.6,926.4 H1571.8 V944.1" fill="none" stroke="#000" stroke-width="2.0"/>
<path d="M1538.1,953.7 C1538.3,947.3 1538.7,944.1 1541.3,944.1 H1602.1 C1604.7,944.1 1605.1,947.3 1605.3,953.7" fill="none" stroke="#000" stroke-width="2.0"/>
<path d="M1570.8,937.1 Q1570.8,942.6 1567.3,945.1 H1576.3 Q1572.8,942.6 1572.8,937.1 Z" fill="#000"/>
<text transform="translate(1516.9,939.5)" font-size="55.0" font-weight="bold" text-anchor="start" textLength="23.6" lengthAdjust="spacingAndGlyphs" style="font-family:'Liberation Serif',serif">*</text>
<text transform="translate(1545.1,939.5)" font-size="55.0" font-weight="bold" text-anchor="start" textLength="23.6" lengthAdjust="spacingAndGlyphs" style="font-family:'Liberation Serif',serif">*</text>
</svg>
</body></html>
